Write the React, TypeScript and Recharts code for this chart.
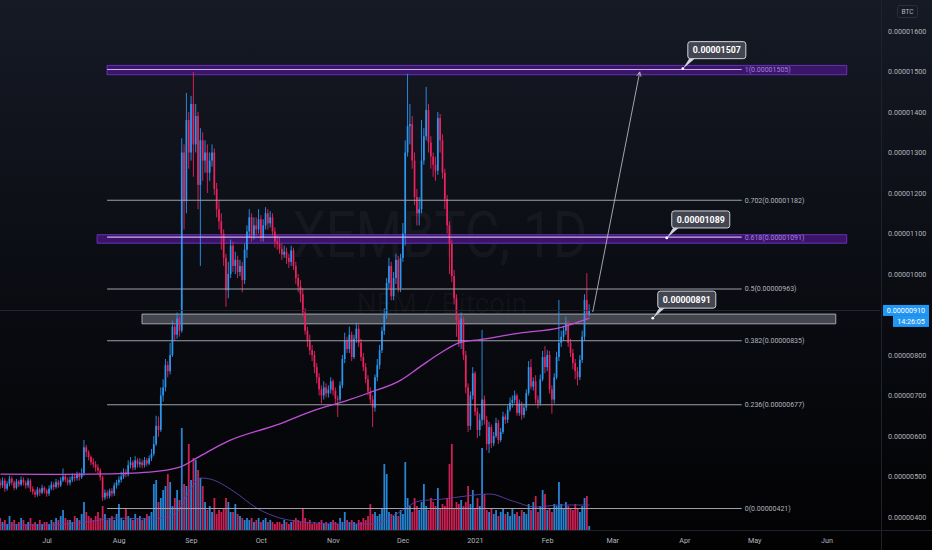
import React from 'react';
import { ComposedChart, Bar, Line, XAxis, YAxis, ReferenceArea, ReferenceLine, ReferenceDot } from 'recharts';

// days are counted from 1 Jul 2020, prices are in satoshi (1e-8 BTC)
const FIRST_DAY = -20;

const closes = [
  478, 490, 470, 482, 495, 485, 472, 488, 480, 492,
  485, 478, 490, 470, 462, 455, 468, 460, 472, 465,
  458, 470, 480, 474, 486, 478, 490, 500, 492, 485,
  492, 500, 496, 505, 498, 508, 572, 560, 548, 535,
  530, 522, 515, 498, 448, 460, 452, 465, 458, 478,
  485, 492, 500, 510, 505, 528, 535, 522, 540, 530,
  535, 528, 540, 532, 545, 556, 580, 625, 615, 700,
  720, 775, 760, 800, 870, 850, 890, 860, 1300, 1180,
  1380, 1300, 1420, 1320, 1390, 1220, 1330, 1280, 1300, 1250,
  1280, 1300, 1210, 1160, 1130, 1100, 1040, 960, 1000, 1070,
  1020, 1035, 1005, 1020, 985, 1060, 1105, 1140, 1095, 1120,
  1110, 1135, 1090, 1120, 1150, 1125, 1140, 1105, 1080, 1075,
  1062, 1048, 1055, 1040, 1030, 1058, 1020, 990, 970, 950,
  905, 860, 835, 812, 800, 770, 745, 715, 700, 720,
  705, 715, 735, 712, 692, 690, 725, 790, 835, 815,
  850, 795, 840, 865, 830, 795, 770, 740, 710, 690,
  670, 745, 775, 812, 860, 900, 978, 1020, 945, 990,
  1035, 965, 1040, 1100, 1300, 1365, 1370, 1280, 1190, 1150,
  1160, 1280, 1340, 1405, 1325, 1290, 1270, 1255, 1385, 1330,
  1250, 1185, 1120, 1075, 995, 940, 886, 830, 890, 800,
  720, 625, 700, 755, 660, 615, 640, 690, 640, 580,
  622, 582, 600, 632, 590, 610, 648, 640, 665, 682,
  689, 700, 657, 680, 652, 670, 706, 770, 722, 735,
  690, 680, 740, 795, 770, 800, 715, 690, 745, 795,
  830, 845, 860, 880, 830, 805, 780, 760, 745, 788,
  845, 936, 900, 910,
];

const highs = [
  495, 498, 496, 488, 502, 500, 490, 494, 492, 500,
  498, 490, 496, 494, 476, 468, 474, 472, 480, 476,
  470, 478, 488, 486, 494, 492, 498, 520, 505, 498,
  500, 508, 506, 512, 510, 520, 590, 578, 565, 552,
  545, 538, 530, 520, 502, 468, 466, 470, 472, 485,
  492, 500, 512, 520, 518, 540, 548, 540, 550, 545,
  545, 542, 548, 546, 552, 568, 600, 650, 648, 720,
  740, 790, 785, 830, 885, 880, 905, 895, 1335, 1320,
  1447, 1400, 1440, 1499, 1420, 1400, 1360, 1350, 1330, 1320,
  1300, 1320, 1310, 1225, 1180, 1150, 1110, 1050, 1030, 1085,
  1080, 1055, 1045, 1035, 1030, 1075, 1120, 1160, 1150, 1140,
  1140, 1160, 1145, 1135, 1165, 1160, 1155, 1150, 1115, 1095,
  1090, 1075, 1070, 1065, 1050, 1070, 1065, 1030, 1000, 985,
  965, 915, 870, 850, 825, 810, 780, 755, 725, 735,
  730, 725, 745, 740, 720, 700, 735, 800, 855, 845,
  870, 858, 850, 880, 875, 840, 805, 780, 750, 720,
  700, 752, 790, 825, 870, 915, 990, 1040, 1030, 1005,
  1050, 1045, 1050, 1126, 1330, 1494, 1420, 1390, 1300, 1210,
  1190, 1380, 1360, 1462, 1420, 1340, 1300, 1290, 1400, 1395,
  1345, 1260, 1195, 1130, 1085, 1010, 950, 900, 905, 895,
  810, 730, 710, 770, 760, 670, 655, 862, 700, 650,
  635, 628, 610, 645, 640, 620, 660, 655, 675, 695,
  700, 712, 705, 690, 685, 680, 715, 785, 790, 745,
  750, 700, 752, 810, 822, 812, 810, 725, 755, 808,
  936, 860, 872, 895, 885, 840, 815, 790, 770, 800,
  860, 950, 1002, 925,
];

const lows = [
  470, 472, 462, 465, 476, 478, 466, 468, 474, 476,
  478, 470, 472, 462, 455, 448, 450, 452, 456, 458,
  450, 452, 466, 466, 470, 472, 474, 486, 486, 478,
  478, 486, 488, 490, 490, 494, 502, 548, 540, 528,
  522, 512, 505, 490, 440, 442, 445, 446, 450, 452,
  470, 478, 485, 494, 498, 500, 520, 515, 516, 522,
  522, 520, 522, 525, 528, 538, 550, 575, 598, 610,
  685, 710, 745, 752, 795, 835, 840, 845, 855, 1110,
  1150, 1260, 1280, 1240, 1300, 1160, 1020, 1230, 1250, 1200,
  1230, 1265, 1195, 1140, 1110, 1060, 1020, 919, 940, 990,
  1005, 1000, 990, 995, 955, 975, 1040, 1090, 1080, 1085,
  1095, 1100, 1080, 1080, 1110, 1110, 1115, 1095, 1065, 1060,
  1050, 1035, 1040, 1025, 1015, 1020, 1010, 975, 955, 930,
  895, 850, 820, 800, 785, 755, 730, 700, 680, 690,
  695, 695, 705, 700, 680, 647, 685, 718, 780, 805,
  805, 785, 790, 830, 820, 785, 760, 730, 700, 680,
  622, 660, 735, 765, 805, 850, 890, 965, 935, 935,
  975, 955, 955, 1030, 1070, 1290, 1320, 1260, 1170, 1120,
  1120, 1150, 1270, 1330, 1300, 1260, 1240, 1230, 1245, 1300,
  1235, 1160, 1100, 1000, 980, 925, 845, 820, 815, 788,
  705, 610, 615, 690, 650, 595, 600, 625, 628, 565,
  558, 570, 575, 595, 580, 585, 605, 630, 632, 660,
  670, 680, 650, 650, 640, 645, 662, 700, 715, 712,
  680, 668, 675, 735, 755, 760, 705, 655, 680, 740,
  785, 820, 835, 850, 820, 795, 765, 740, 725, 738,
  780, 835, 885, 895,
];

// volume in millions of XEM
const volumes = [
  0.6, 0.4, 0.5, 0.3, 0.7, 0.4, 0.5, 0.3, 0.4, 0.6,
  0.5, 0.3, 0.4, 0.6, 0.3, 0.4, 0.3, 0.5, 0.3, 0.4,
  0.4, 0.3, 0.5, 0.4, 0.6, 0.5, 0.7, 1.0, 0.6, 0.5,
  0.5, 0.4, 0.7, 0.6, 0.5, 0.8, 1.4, 0.9, 0.7, 0.6,
  0.5, 0.7, 0.9, 0.6, 1.2, 0.8, 0.5, 0.6, 0.7, 0.5,
  0.8, 1.3, 0.6, 0.5, 1.1, 0.7, 0.6, 0.5, 0.8, 0.6,
  0.7, 0.5, 0.6, 0.8, 0.7, 0.9, 2.3, 2.5, 1.4, 1.6,
  2.0, 2.2, 2.8, 2.4, 1.2, 1.6, 2.0, 1.5, 5.1, 2.3,
  2.2, 4.3, 2.5, 3.6, 3.5, 3.0, 2.6, 2.2, 1.4, 1.0,
  1.2, 0.9, 1.6, 0.8, 1.0, 0.9, 1.1, 1.6, 1.4, 0.9,
  0.9, 1.3, 0.8, 0.7, 0.6, 0.5, 0.6, 0.5, 0.6, 0.4,
  0.5, 0.6, 0.4, 0.5, 0.6, 0.4, 0.5, 0.4, 0.3, 0.4,
  0.4, 0.3, 0.5, 0.4, 0.3, 0.4, 0.5, 0.6, 0.5, 0.4,
  1.1, 0.6, 0.4, 0.5, 0.3, 0.4, 0.3, 0.4, 0.5, 0.3,
  0.4, 0.3, 0.4, 0.5, 0.4, 0.3, 0.6, 0.4, 0.9, 0.5,
  0.4, 0.5, 0.4, 0.3, 0.5, 0.4, 0.6, 0.5, 0.7, 1.3,
  0.8, 0.9, 0.7, 0.8, 1.1, 3.3, 2.8, 0.9, 0.8, 0.7,
  0.9, 0.7, 1.0, 0.8, 3.4, 1.6, 1.2, 0.9, 1.6, 1.2,
  1.0, 1.4, 2.3, 1.2, 1.0, 1.6, 1.4, 1.2, 2.1, 1.1,
  1.3, 1.2, 1.6, 3.3, 4.3, 1.1, 1.4, 1.3, 1.5, 1.2,
  1.4, 2.2, 1.3, 2.0, 1.1, 1.6, 1.2, 4.1, 1.8, 1.0,
  0.9, 1.1, 0.8, 1.0, 0.7, 0.9, 1.1, 0.8, 0.9, 0.7,
  1.1, 0.8, 0.9, 0.7, 1.0, 0.9, 0.8, 1.3, 1.0, 1.4,
  1.7, 0.9, 1.2, 2.0, 1.8, 1.0, 1.1, 0.9, 1.3, 1.2,
  2.4, 1.3, 1.1, 1.4, 1.2, 1.1, 1.0, 1.3, 1.1, 0.9,
  1.2, 1.6, 1.7, 0.2,
];

// MA on price
const maDays = [-20, 0, 20, 44, 57, 65, 78, 99, 115, 129, 139, 152, 160, 169, 177, 186, 203, 220, 233];
const maValues = [506, 505, 506, 511, 523, 548, 588, 628, 664, 688, 708, 738, 770, 805, 830, 838, 854, 867, 891];

// MA on volume
const volMaDays = [-20, 0, 20, 30, 45, 55, 62, 66, 70, 80, 90, 100, 110, 125, 140, 150, 160, 170, 180, 190, 200, 210, 220, 233];
const volMaValues = [0.25, 0.25, 0.45, 0.6, 0.55, 0.8, 2.1, 2.6, 2.55, 1.95, 1.1, 0.6, 0.4, 0.3, 0.3, 0.8, 1.45, 1.55, 1.7, 1.8, 1.45, 1.15, 1.25, 1.25];

const monthTicks = [0, 31, 62, 92, 123, 153, 184, 215, 243, 274, 304, 335];
const monthLabels = ['Jul', 'Aug', 'Sep', 'Oct', 'Nov', 'Dec', '2021', 'Feb', 'Mar', 'Apr', 'May', 'Jun'];
const priceTicks = [400, 500, 600, 700, 800, 1000, 1100, 1200, 1300, 1400, 1500, 1600];

// fib retracement
const fibRatios = ['1', '0.702', '0.618', '0.5', '0.382', '0.236', '0'];
const fibPrices = [1505, 1182, 1091, 963, 835, 677, 421];
const FIB_FROM = 25.8;
const FIB_TO = 298.4;

// zones: two purple, one grey
const zoneTops = [1515, 1097, 901];
const zoneBottoms = [1492, 1076, 877];
const zoneFrom = [25.8, 21.5, 40.8];
const zoneTo = [343.5, 343.5, 338.8];

const calloutPrices = [1507, 1089, 891];
const calloutDays = [273.1, 266.2, 260.2];

const arrowFrom = { x: 234.4, y: 906 };
const arrowTo = { x: 254.6, y: 1499 };

const LAST_PRICE = 910;
const COUNTDOWN = '14:26:05';

const UP = '#2a96f0';
const DOWN = '#e8235f';
const W = 932;
const H = 550;
const FONT = 'Roboto, "Noto Sans", sans-serif';

const fmt = (v: number) => (v / 1e8).toFixed(8);

const candles = closes.map((c, i) => {
  const open = i === 0 ? 485 : closes[i - 1];
  const hi = Math.max(highs[i], open, c);
  const lo = Math.min(lows[i], open, c);
  return { day: FIRST_DAY + i, range: [lo, hi], open, close: c, hi, lo, volume: volumes[i] };
});

const maData = maDays.map((d, i) => ({ day: d, ma: maValues[i] }));
const volMaData = volMaDays.map((d, i) => ({ day: d, vma: volMaValues[i] }));

const Candle = (props: any) => {
  const { x, y, width, height, payload } = props;
  if (x == null || !payload) return null;
  const top = Math.min(y, y + height);
  const h = Math.abs(height);
  const span = payload.hi - payload.lo || 1;
  const k = h / span;
  const yo = top + (payload.hi - payload.open) * k;
  const yc = top + (payload.hi - payload.close) * k;
  const color = payload.close >= payload.open ? UP : DOWN;
  const cx = x + width / 2;
  return (
    <g>
      <line x1={cx} x2={cx} y1={top} y2={top + h} stroke={color} strokeWidth={0.9} />
      <rect x={cx - 0.85} width={1.7} y={Math.min(yo, yc)} height={Math.max(1, Math.abs(yc - yo))} fill={color} />
    </g>
  );
};

const VolumeBar = (props: any) => {
  const { x, y, width, height, payload } = props;
  if (x == null || !payload) return null;
  const color = payload.close >= payload.open ? UP : DOWN;
  return <rect x={x} y={Math.min(y, y + height)} width={width} height={Math.abs(height)} fill={color} fillOpacity={0.88} />;
};

const Callout = (props: any) => {
  const { cx, cy, text } = props;
  if (cx == null) return null;
  return (
    <g>
      <path d={`M${cx},${cy} L${cx + 7},${cy - 11} L${cx + 13},${cy - 11} Z`} fill="#d1d4dc" />
      <rect x={cx + 5} y={cy - 27} width={58} height={17} rx={2.5} fill="#434651" stroke="#d1d4dc" strokeWidth={1} />
      <text x={cx + 34} y={cy - 15.3} textAnchor="middle" fill="#ffffff" fontSize={8.8} fontWeight={700} fontFamily={FONT}>
        {text}
      </text>
      <circle cx={cx} cy={cy} r={1.4} fill="#ffffff" />
    </g>
  );
};

const Arrow = (props: any) => {
  const { x1, y1, x2, y2 } = props;
  if (x1 == null) return null;
  const a = Math.atan2(y2 - y1, x2 - x1);
  const s = 5;
  const p1 = `${x2 - s * Math.cos(a - 0.45)},${y2 - s * Math.sin(a - 0.45)}`;
  const p2 = `${x2 - s * Math.cos(a + 0.45)},${y2 - s * Math.sin(a + 0.45)}`;
  return (
    <g>
      <line x1={x1} y1={y1} x2={x2} y2={y2} stroke="#b2b5be" strokeWidth={0.9} />
      <polyline points={`${p1} ${x2},${y2} ${p2}`} fill="none" stroke="#b2b5be" strokeWidth={0.9} />
    </g>
  );
};

const PriceTag = (props: any) => {
  const vb = props.viewBox;
  if (!vb) return null;
  const left = vb.x + vb.width + 3;
  const y = vb.y;
  return (
    <g>
      <rect x={left} y={y - 5.5} width={46} height={11} fill="#2196f3" />
      <text x={left + 23} y={y + 2.5} textAnchor="middle" fill="#ffffff" fontSize={7.2} fontFamily={FONT}>
        {fmt(LAST_PRICE)}
      </text>
      <rect x={left + 10} y={y + 5.5} width={36} height={11} fill="#2196f3" />
      <text x={left + 28} y={y + 13.6} textAnchor="middle" fill="#ffffff" fontSize={7.2} fontFamily={FONT}>
        {COUNTDOWN}
      </text>
    </g>
  );
};

export default function App() {
  return (
    <div
      style={{
        position: 'absolute',
        left: 0,
        top: 0,
        width: W,
        height: H,
        overflow: 'hidden',
        fontFamily: FONT,
        background: 'linear-gradient(180deg, #161a25 0%, #0c0e15 45%, #020203 100%)',
      }}
    >
      <svg width={W} height={H} style={{ position: 'absolute', left: 0, top: 0 }}>
        <text x={440} y={257} textAnchor="middle" fontSize={64} fill="#ffffff" fillOpacity={0.04} textLength={295} lengthAdjust="spacingAndGlyphs">
          XEMBTC, 1D
        </text>
        <text x={442} y={313} textAnchor="middle" fontSize={27} fill="#ffffff" fillOpacity={0.04} textLength={170} lengthAdjust="spacingAndGlyphs">
          NEM / Bitcoin
        </text>
        <line x1={881.5} x2={881.5} y1={0} y2={H} stroke="#1f222b" strokeWidth={1} />
        <line x1={0} x2={W} y1={530.5} y2={530.5} stroke="#1f222b" strokeWidth={1} />
        <rect x={897.5} y={5.5} width={20} height={12} rx={2} fill="none" stroke="#2a2e39" />
        <text x={907.5} y={14} textAnchor="middle" fontSize={6.5} fill="#b2b5be" fontFamily={FONT}>
          BTC
        </text>
      </svg>
      <div style={{ position: 'absolute', left: 0, top: 0 }}>
        <ComposedChart width={W} height={H} data={candles} margin={{ top: 0, right: 0, bottom: 0, left: 0 }}>
          <XAxis
            xAxisId="p"
            type="number"
            dataKey="day"
            domain={[-20.2, 357.8]}
            allowDataOverflow
            ticks={monthTicks}
            tickFormatter={(v: number) => monthLabels[monthTicks.indexOf(v)] ?? ''}
            axisLine={false}
            tickLine={false}
            height={20}
            tick={{ fill: '#b2b5be', fontSize: 7.2 }}
            interval={0}
          />
          <XAxis xAxisId="v" type="number" dataKey="day" domain={[-20.2, 357.8]} allowDataOverflow hide />
          <YAxis
            yAxisId="price"
            orientation="right"
            type="number"
            domain={[367.9, 1676.5]}
            allowDataOverflow
            ticks={priceTicks}
            tickFormatter={fmt}
            axisLine={false}
            tickLine={false}
            width={52}
            interval={0}
            tick={{ fill: '#b2b5be', fontSize: 7.2 }}
          />
          <YAxis yAxisId="vol" type="number" domain={[0, 26.5]} allowDataOverflow hide />

          {zoneTops.map((t, i) => (
            <ReferenceArea
              key={`z${i}`}
              xAxisId="p"
              yAxisId="price"
              x1={zoneFrom[i]}
              x2={zoneTo[i]}
              y1={zoneBottoms[i]}
              y2={t}
              fill={i < 2 ? '#3f1670' : '#6b6e78'}
              fillOpacity={i < 2 ? 0.9 : 0.6}
              stroke={i < 2 ? '#6a2fb8' : '#a3a6af'}
              strokeWidth={1}
              ifOverflow="visible"
            />
          ))}

          <Bar
            xAxisId="v"
            yAxisId="vol"
            dataKey="volume"
            barSize={1.8}
            shape={<VolumeBar />}
            isAnimationActive={false}
          />
          <Line
            xAxisId="v"
            yAxisId="vol"
            data={volMaData}
            dataKey="vma"
            type="monotone"
            stroke="#5e3fa8"
            strokeWidth={0.9}
            dot={false}
            activeDot={false}
            isAnimationActive={false}
          />

          {fibPrices.map((p, i) => {
            const purple = i === 0 || i === 2;
            return (
              <ReferenceLine
                key={`f${i}`}
                xAxisId="p"
                yAxisId="price"
                segment={[{ x: FIB_FROM, y: p }, { x: FIB_TO, y: p }]}
                stroke={purple ? '#cdb2ee' : '#9ea1aa'}
                strokeWidth={1.1}
                ifOverflow="visible"
                label={{
                  value: `${fibRatios[i]}(${fmt(p)})`,
                  position: 'right',
                  offset: 3,
                  fill: purple ? '#a77fe0' : '#b2b5be',
                  fontSize: 7,
                }}
              />
            );
          })}

          <ReferenceLine
            xAxisId="p"
            yAxisId="price"
            y={LAST_PRICE}
            stroke="#2c303b"
            strokeWidth={0.8}
            label={(props: any) => <PriceTag {...props} />}
          />

          <Bar
            xAxisId="p"
            yAxisId="price"
            dataKey="range"
            barSize={1.7}
            shape={<Candle />}
            isAnimationActive={false}
          />
          <Line
            xAxisId="p"
            yAxisId="price"
            data={maData}
            dataKey="ma"
            type="monotone"
            stroke="#c04fd8"
            strokeWidth={1.3}
            dot={false}
            activeDot={false}
            isAnimationActive={false}
          />

          <ReferenceLine
            xAxisId="p"
            yAxisId="price"
            segment={[arrowFrom, arrowTo]}
            ifOverflow="visible"
            shape={(p: any) => <Arrow {...p} />}
          />

          {calloutPrices.map((p, i) => (
            <ReferenceDot
              key={`c${i}`}
              xAxisId="p"
              yAxisId="price"
              x={calloutDays[i]}
              y={p}
              r={2}
              ifOverflow="visible"
              shape={(sp: any) => <Callout {...sp} text={fmt(p)} />}
            />
          ))}
        </ComposedChart>
      </div>
    </div>
  );
}
